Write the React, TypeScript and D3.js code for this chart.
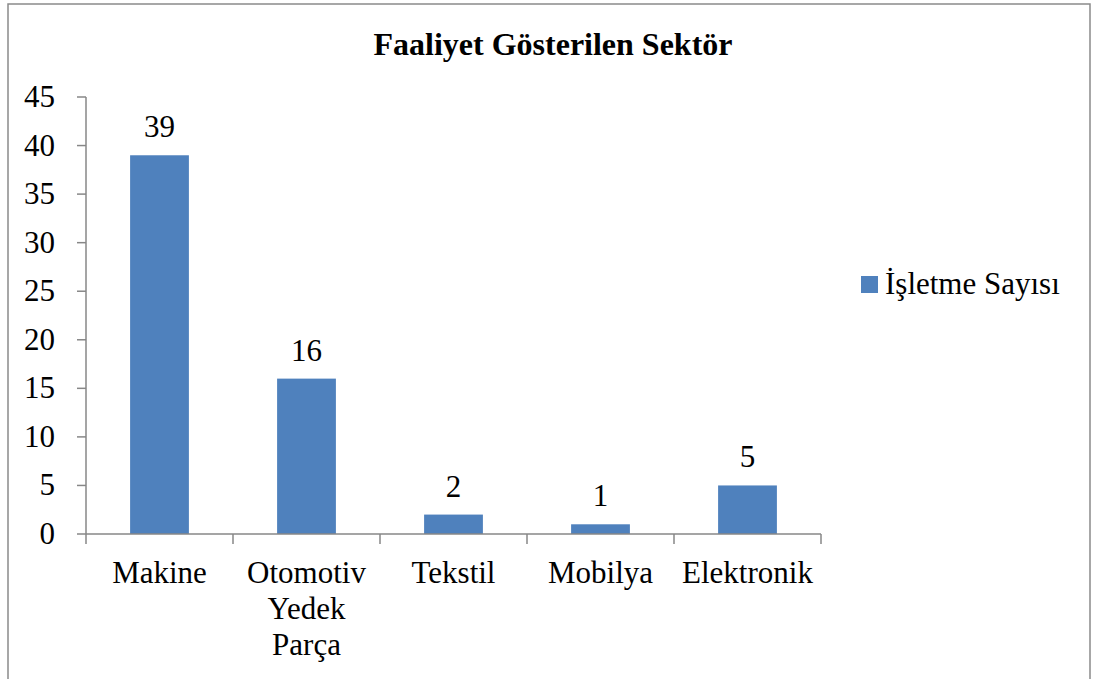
import * as d3 from 'd3';

const categories = ['Makine', 'Otomotiv Yedek Parça', 'Tekstil', 'Mobilya', 'Elektronik'];
const categoryLines = [['Makine'], ['Otomotiv', 'Yedek', 'Parça'], ['Tekstil'], ['Mobilya'], ['Elektronik']];
const values = [39, 16, 2, 1, 5];
const yTicks = [0, 5, 10, 15, 20, 25, 30, 35, 40, 45];
const seriesName = 'İşletme Sayısı';
const title = 'Faaliyet Gösterilen Sektör';

const serif = { fontFamily: "'Liberation Serif'" };

export default function App() {
  const width = 1095;
  const height = 679;
  const plot = { left: 86, right: 821, top: 97, bottom: 534 };
  const axisColor = '#878787';
  const barColor = '#4F81BD';

  const x = d3.scaleBand<string>().domain(categories).range([plot.left, plot.right]).padding(0);
  const y = d3.scaleLinear().domain([0, 45]).range([plot.bottom, plot.top]);
  const barW = x.bandwidth() * 0.4;

  return (
    <svg
      width={width}
      height={height}
      viewBox={`0 0 ${width} ${height}`}
      style={{ position: 'absolute', left: 0, top: 0, background: '#fff' }}
    >
      <rect x={8} y={4} width={1082} height={720} fill="#fff" stroke="#8a8a8a" strokeWidth={1.5} />
      <text x={553} y={55} textAnchor="middle" fontSize={32} fontWeight="bold" style={serif}>
        {title}
      </text>

      {categories.map((c, i) => {
        const cx = (x(c) as number) + x.bandwidth() / 2;
        return (
          <g key={c}>
            <rect x={cx - barW / 2} y={y(values[i])} width={barW} height={y(0) - y(values[i])} fill={barColor} />
            <text x={cx} y={y(values[i]) - 18} textAnchor="middle" fontSize={31} style={serif}>
              {values[i]}
            </text>
            {categoryLines[i].map((line, j) => (
              <text key={j} x={cx} y={583 + j * 36} textAnchor="middle" fontSize={31} style={serif}>
                {line}
              </text>
            ))}
          </g>
        );
      })}

      <line x1={plot.left} y1={plot.top} x2={plot.left} y2={plot.bottom} stroke={axisColor} strokeWidth={1.5} />
      <line x1={plot.left} y1={plot.bottom} x2={plot.right} y2={plot.bottom} stroke={axisColor} strokeWidth={1.5} />
      {yTicks.map((t) => (
        <g key={t}>
          <line x1={plot.left - 9} y1={y(t)} x2={plot.left} y2={y(t)} stroke={axisColor} strokeWidth={1.5} />
          <text x={55} y={y(t) + 10} textAnchor="end" fontSize={31} style={serif}>
            {t}
          </text>
        </g>
      ))}
      {[...categories.map((c) => x(c) as number), plot.right].map((tx, i) => (
        <line key={i} x1={tx} y1={plot.bottom} x2={tx} y2={plot.bottom + 10} stroke={axisColor} strokeWidth={1.5} />
      ))}

      <rect x={861} y={276} width={17} height={17} fill={barColor} />
      <text x={885} y={294} fontSize={31} style={serif}>
        {seriesName}
      </text>
    </svg>
  );
}
